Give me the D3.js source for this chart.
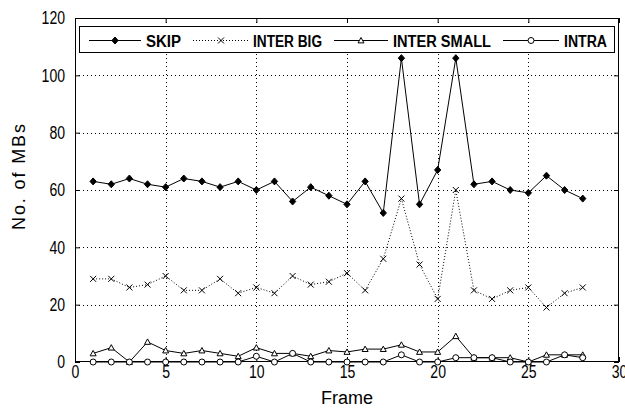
<!DOCTYPE html>
<html><head><meta charset="utf-8">
<script src="https://cdn.jsdelivr.net/npm/d3@7"></script>
<style>
html,body{margin:0;padding:0;background:#fff;}
svg{display:block;}
</style></head>
<body>
<script>
const frames = [1,2,3,4,5,6,7,8,9,10,11,12,13,14,15,16,17,18,19,20,21,22,23,24,25,26,27,28];
const skip = [63,62,64,62,61,64,63,61,63,60,63,56,61,58,55,63,52,106,55,67,106,62,63,60,59,65,60,57];
const interBig = [29,29,26,27,30,25,25,29,24,26,24,30,27,28,31,25,36,57,34,22,60,25,22,25,26,19,24,26];
const interSmall = [3,5,0,7,4,3,4,3,2,5,3,3,2,4,3.5,4.5,4.5,6,3.5,3.5,9,1.5,1.5,1.5,0,2.5,2.5,2.5];
const intra = [0,0,0,0,0,0,0,0,0,2,0,3,0,0,0,0,0,2.5,0,0,1.5,1.5,1.5,0,0,0,2.5,1.5];
const seriesNames = ["SKIP","INTER BIG","INTER SMALL","INTRA"];
const xTicks = [0,5,10,15,20,25,30];
const yTicks = [0,20,40,60,80,100,120];

const W = 625, H = 411;
const m = {left:75, right:6, top:18, bottom:49};
const svg = d3.select("body").append("svg").attr("width",W).attr("height",H);
const x = d3.scaleLinear().domain([0,30]).range([m.left, W-m.right]);
const y = d3.scaleLinear().domain([0,120]).range([H-m.bottom, m.top]);
const tickFont = "'Liberation Sans',Arial,sans-serif";

svg.append("rect").attr("x",x(0)).attr("y",y(120)).attr("width",x(30)-x(0)).attr("height",y(0)-y(120)).attr("fill","#fff");

// grid
const grid = svg.append("g").attr("stroke","#000").attr("stroke-width",1).attr("stroke-dasharray","1,3");
grid.selectAll("line.v").data(xTicks.slice(1,-1)).join("line")
  .attr("x1",d=>Math.round(x(d))+0.5).attr("x2",d=>Math.round(x(d))+0.5)
  .attr("y1",y(120)).attr("y2",y(0));
grid.selectAll("line.h").data(yTicks.slice(1,-1)).join("line")
  .attr("y1",d=>Math.round(y(d))+0.5).attr("y2",d=>Math.round(y(d))+0.5)
  .attr("x1",x(0)).attr("x2",x(30));

// axes
function styleAxis(g){
  g.select(".domain").remove();
  g.selectAll(".tick line").attr("stroke","#000");
  g.selectAll(".tick text").attr("fill","#000").style("font-family",tickFont).style("font-size","18px")
    .each(function(){ const L=this.getComputedTextLength(); if(L>0){ d3.select(this).attr("textLength",L*0.78).attr("lengthAdjust","spacingAndGlyphs"); } });
}
svg.append("g").attr("transform",`translate(0,${y(0)})`)
  .call(d3.axisBottom(x).tickValues(xTicks).tickSizeInner(-5).tickSizeOuter(0).tickPadding(3).tickFormat(d3.format("d")))
  .call(styleAxis);
svg.append("g").attr("transform",`translate(0,${y(120)})`)
  .call(d3.axisTop(x).tickValues(xTicks).tickSizeInner(-5).tickSizeOuter(0).tickFormat(""))
  .call(styleAxis);
svg.append("g").attr("transform",`translate(${x(0)},0)`)
  .call(d3.axisLeft(y).tickValues(yTicks).tickSizeInner(-5).tickSizeOuter(0).tickPadding(10).tickFormat(d3.format("d")))
  .call(styleAxis);
svg.append("g").attr("transform",`translate(${x(30)},0)`)
  .call(d3.axisRight(y).tickValues(yTicks).tickSizeInner(-5).tickSizeOuter(0).tickFormat(""))
  .call(styleAxis);

svg.append("rect").attr("x",x(0)+0.5).attr("y",y(120)+0.5).attr("width",x(30)-x(0)-1).attr("height",y(0)-y(120)-1)
  .attr("fill","none").attr("stroke","#000").attr("stroke-width",1);

// symbols
const diamond = {draw(c,s){const r=3.5; c.moveTo(0,-r); c.lineTo(r*0.9,0); c.lineTo(0,r); c.lineTo(-r*0.9,0); c.closePath();}};
const cross = {draw(c,s){const r=3; c.moveTo(-r,-r); c.lineTo(r,r); c.moveTo(r,-r); c.lineTo(-r,r);}};
const tri = {draw(c,s){const r=3; c.moveTo(0,-r); c.lineTo(r,r*0.8); c.lineTo(-r,r*0.8); c.closePath();}};
const circ = {draw(c,s){c.moveTo(3,0); c.arc(0,0,3,0,2*Math.PI);}};

const series = [
  {vals:skip, dash:null, sym:diamond, fill:"#000"},
  {vals:interBig, dash:"1,2", sym:cross, fill:"none"},
  {vals:interSmall, dash:null, sym:tri, fill:"#fff"},
  {vals:intra, dash:null, sym:circ, fill:"#fff"}
];
const line = d3.line().x((d,i)=>x(frames[i])).y(d=>y(d));
series.forEach(s=>{
  const g = svg.append("g");
  g.append("path").attr("d",line(s.vals)).attr("fill","none").attr("stroke","#000").attr("stroke-width",1)
    .attr("stroke-dasharray",s.dash);
  g.selectAll("path.m").data(s.vals).join("path").attr("class","m")
    .attr("transform",(d,i)=>`translate(${x(frames[i])},${y(d)})`)
    .attr("d",d3.symbol().type(s.sym)).attr("fill",s.fill).attr("stroke","#000").attr("stroke-width",1);
});

// legend
const lg = svg.append("g");
lg.append("rect").attr("x",79.5).attr("y",26.5).attr("width",535).attr("height",26).attr("fill","#fff").attr("stroke","#000");
const legPos = [
  {l0:89,l1:141,tx:146,w:35},
  {l0:193,l1:249,tx:253,w:69},
  {l0:334,l1:388,tx:393,w:98},
  {l0:503,l1:559,tx:564,w:43}
];
series.forEach((s,i)=>{
  const p = legPos[i], ly = 40;
  lg.append("line").attr("x1",p.l0).attr("x2",p.l1).attr("y1",ly+0.5).attr("y2",ly+0.5)
    .attr("stroke","#000").attr("stroke-dasharray",s.dash);
  lg.append("path").attr("transform",`translate(${(p.l0+p.l1)/2},${ly+0.5})`)
    .attr("d",d3.symbol().type(s.sym)).attr("fill",s.fill).attr("stroke","#000");
  lg.append("text").attr("x",p.tx).attr("y",ly+6.5).text(seriesNames[i])
    .attr("textLength",p.w).attr("lengthAdjust","spacingAndGlyphs")
    .style("font-family","'Liberation Sans',Arial,sans-serif").style("font-weight","bold").style("font-size","16px");
});

// axis labels
svg.append("text").attr("x",x(15)).attr("y",404).attr("text-anchor","middle").text("Frame")
  .style("font-family","'Liberation Sans',Arial,sans-serif").style("font-size","18px");
svg.append("text").attr("transform",`translate(25,${(y(0)+y(120))/2 - 13}) rotate(-90)`).attr("text-anchor","middle").text("No. of MBs")
  .style("font-family","'Liberation Sans',Arial,sans-serif").style("font-size","18px").attr("textLength",106).attr("lengthAdjust","spacing");
</script>
</body></html>
